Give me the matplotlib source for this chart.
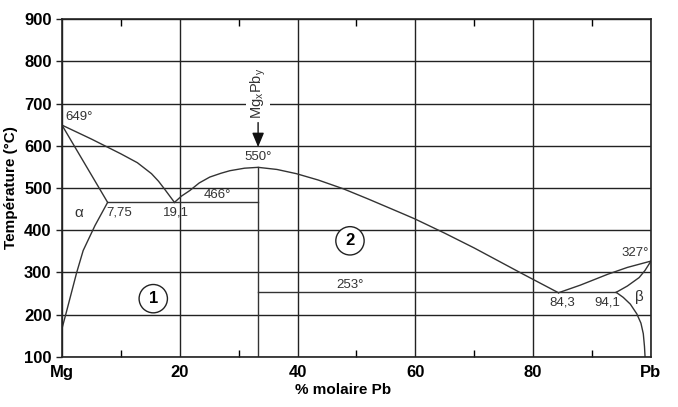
import numpy as np
from matplotlib import pyplot as plt

plt.rcParams['font.family'] = ['Liberation Sans', 'DejaVu Sans']

# liquidus / solidus curves (x = % molaire Pb, y = temperature in C)
liq_left_x = [0, 5, 10, 12.8, 15.2, 16.4, 17.5, 19.1]
liq_left_y = [649, 616, 581, 560, 534, 516, 496, 466]
sol_left_x = [0, 7.75]
sol_left_y = [649, 466]
solvus_a_x = [7.75, 5.6, 3.6, 2.5, 0.8, 0]
solvus_a_y = [466, 411, 352, 300, 209, 167]
liq_mid_x = [19.1, 20.3, 21.7, 23.3, 25.1, 27, 28.5, 31, 33.3, 36.5, 39.8,
             43.5, 47.8, 52, 57.9, 59.9, 65, 70, 78.3, 84.3]
liq_mid_y = [466, 481, 494, 512, 526, 535, 541, 547, 549, 544, 534,
             519, 498, 474, 439, 427, 393, 358, 296, 252]
liq_right_x = [84.3, 88, 92.7, 96, 100]
liq_right_y = [252, 270, 296, 312, 327]
sol_b_x = [94.1, 96, 98, 99, 100]
sol_b_y = [253, 268, 288, 305, 327]
solvus_b_x = [94.1, 95.3, 96.5, 97.6, 98.3, 98.7, 98.9, 99.0]
solvus_b_y = [253, 241, 225, 202, 180, 155, 125, 100]

x_compound = 33.3
t_eut1 = 466
t_eut2 = 253
eut1_x = [7.75, x_compound]
eut2_x = [x_compound, 94.1]

xticks = [0, 20, 40, 60, 80, 100]
xtick_labels = ['Mg', '20', '40', '60', '80', 'Pb']
yticks = [100, 200, 300, 400, 500, 600, 700, 800, 900]

fig = plt.figure(figsize=(6.78, 4.07), dpi=100)
ax = fig.add_axes([0.0914, 0.123, 0.8687, 0.830])

lc = '#333333'
lw = 1.0
ax.plot(liq_left_x, liq_left_y, color=lc, lw=lw)
ax.plot(sol_left_x, sol_left_y, color=lc, lw=lw)
ax.plot(solvus_a_x, solvus_a_y, color=lc, lw=lw)
ax.plot(liq_mid_x, liq_mid_y, color=lc, lw=lw)
ax.plot(liq_right_x, liq_right_y, color=lc, lw=lw)
ax.plot(sol_b_x, sol_b_y, color=lc, lw=lw)
ax.plot(solvus_b_x, solvus_b_y, color=lc, lw=lw)
ax.plot(eut1_x, [t_eut1, t_eut1], color=lc, lw=lw)
ax.plot(eut2_x, [t_eut2, t_eut2], color=lc, lw=lw)
ax.plot([x_compound, x_compound], [100, 549], color=lc, lw=lw)

ax.set_xlim(0, 100)
ax.set_ylim(100, 900)
ax.set_xticks(xticks)
ax.set_xticklabels(xtick_labels)
ax.set_yticks(yticks)
ax.set_xticks([10, 30, 50, 70, 90], minor=True)
ax.tick_params(axis='x', which='minor', direction='in', length=5, top=True, width=1)
ax.tick_params(axis='both', which='major', labelsize=12, length=4, width=1, color='#222222')
ax.tick_params(axis='x', which='major', length=0, pad=6)
for lab in ax.get_xticklabels() + ax.get_yticklabels():
    lab.set_fontweight('bold')
ax.grid(True, which='major', color='#222222', lw=1.0)
for s in ax.spines.values():
    s.set_color('#222222')
    s.set_linewidth(1.2)

ax.set_ylabel('Température (°C)', fontsize=11, fontweight='bold', labelpad=4)
ax.set_xlabel('% molaire Pb', fontsize=11, fontweight='bold', labelpad=2, x=0.477)

tc = '#333333'
fs = 9.5
ax.text(0.6, 653, '649°', fontsize=fs, color=tc, ha='left', va='bottom')
ax.text(x_compound, 560, '550°', fontsize=fs, color=tc, ha='center', va='bottom',
        bbox=dict(facecolor='white', edgecolor='none', pad=0.5))
ax.text(26.4, 470, '466°', fontsize=fs, color=tc, ha='center', va='bottom')
ax.text(7.6, 442, '7,75', fontsize=fs, color=tc, ha='left', va='center')
ax.text(19.3, 442, '19,1', fontsize=fs, color=tc, ha='center', va='center')
ax.text(2.8, 442, 'α', fontsize=11, color=tc, ha='center', va='center')
ax.text(48.9, 257, '253°', fontsize=fs, color=tc, ha='center', va='bottom')
ax.text(85.0, 228, '84,3', fontsize=fs, color=tc, ha='center', va='center')
ax.text(92.6, 228, '94,1', fontsize=fs, color=tc, ha='center', va='center')
ax.text(98.1, 243, 'β', fontsize=11, color=tc, ha='center', va='center')
ax.text(99.6, 331, '327°', fontsize=fs, color=tc, ha='right', va='bottom')

circ = dict(boxstyle='circle,pad=0.4', facecolor='white', edgecolor='#222222', lw=1.0)
ax.text(15.5, 238, '1', fontsize=12, fontweight='bold', ha='center', va='center', bbox=circ)
ax.text(48.9, 375, '2', fontsize=12, fontweight='bold', ha='center', va='center', bbox=circ)

ax.annotate('', xy=(x_compound, 597), xytext=(x_compound, 655),
            arrowprops=dict(arrowstyle='-|>,head_length=0.86,head_width=0.36',
                            color='#111111', lw=1.0, mutation_scale=10,
                            shrinkA=0, shrinkB=0))
ax.text(x_compound, 663, r'Mg$_\mathregular{x}$Pb$_\mathregular{y}$', fontsize=10.5, color=tc,
        rotation=90, ha='center', va='bottom',
        bbox=dict(facecolor='white', edgecolor='none', pad=1.5))

fig.savefig('out.png', dpi=100)
